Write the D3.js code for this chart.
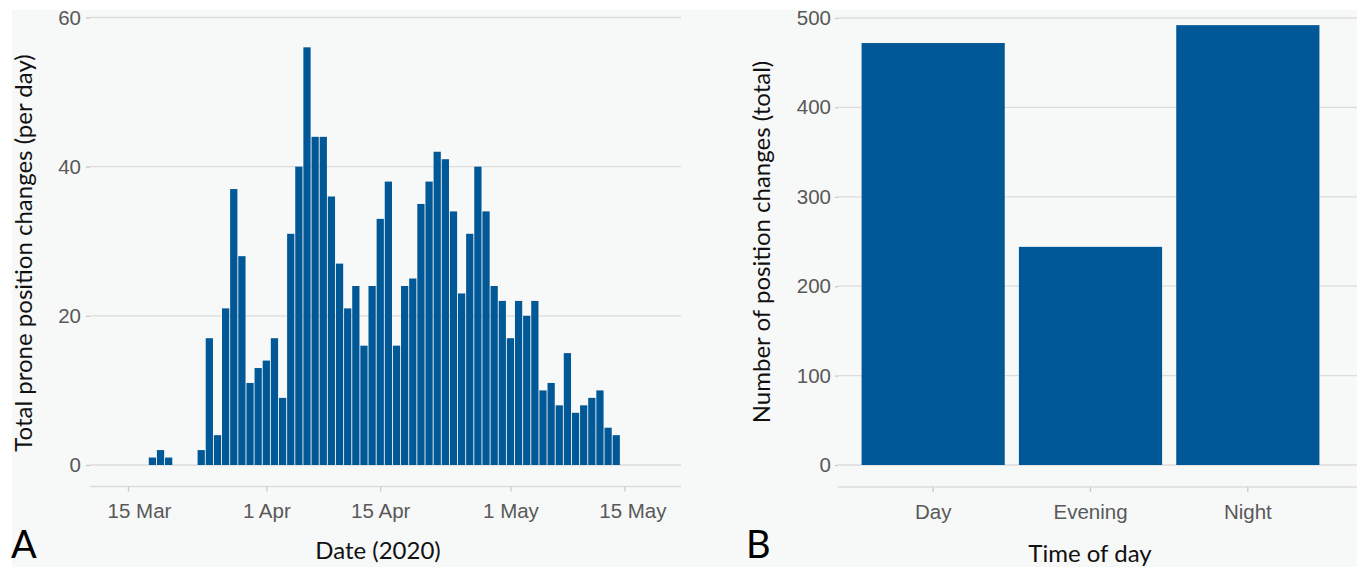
<!DOCTYPE html>
<html>
<head>
<meta charset="utf-8">
<script src="https://cdn.jsdelivr.net/npm/d3@7"></script>
<style>
  html, body { margin: 0; padding: 0; background: #ffffff; }
  svg { display: block; font-family: Lato, "Open Sans", sans-serif; }
</style>
</head>
<body>
<svg id="chart" width="1357" height="567"></svg>
<script>
// ---------- Data ----------
const dailyDates = [
  "2020-03-18","2020-03-19","2020-03-20",
  "2020-03-24","2020-03-25","2020-03-26","2020-03-27","2020-03-28","2020-03-29","2020-03-30","2020-03-31",
  "2020-04-01","2020-04-02","2020-04-03","2020-04-04","2020-04-05","2020-04-06","2020-04-07","2020-04-08","2020-04-09","2020-04-10",
  "2020-04-11","2020-04-12","2020-04-13","2020-04-14","2020-04-15","2020-04-16","2020-04-17","2020-04-18","2020-04-19","2020-04-20",
  "2020-04-21","2020-04-22","2020-04-23","2020-04-24","2020-04-25","2020-04-26","2020-04-27","2020-04-28","2020-04-29","2020-04-30",
  "2020-05-01","2020-05-02","2020-05-03","2020-05-04","2020-05-05","2020-05-06","2020-05-07","2020-05-08","2020-05-09","2020-05-10",
  "2020-05-11","2020-05-12","2020-05-13","2020-05-14"
];
const dailyCounts = [
  1, 2, 1,
  2, 17, 4, 21, 37, 28, 11, 13,
  14, 17, 9, 31, 40, 56, 44, 44, 36, 27,
  21, 24, 16, 24, 33, 38, 16, 24, 25, 35,
  38, 42, 41, 34, 23, 31, 40, 34, 24, 22,
  17, 22, 20, 22, 10, 11, 8, 15, 7, 8,
  9, 10, 5, 4
];
const dateTicks = ["2020-03-15","2020-04-01","2020-04-15","2020-05-01","2020-05-15"];
const leftYTicks = [0, 20, 40, 60];

const timeCategories = ["Day", "Evening", "Night"];
const timeTotals = [472, 244, 492];
const rightYTicks = [0, 100, 200, 300, 400, 500];

// ---------- Setup ----------
const svg = d3.select("#chart");
const BAR = "#005896";
const GRID = "#dcdcdc";
const TICKTXT = "#595959";
const TICKFS = "20.5px";
const TITLEFS = "24px";
const parse = d3.utcParse("%Y-%m-%d");
// small horizontal nudges of the date labels, as they sit in the original figure
const dateLabelNudge = [11, 0, 0, 0, 8];

svg.append("rect").attr("x", 12).attr("y", 10).attr("width", 1345).attr("height", 557).attr("fill", "#f7f8f8");

// ---------- Left panel ----------
const L = { x0: 90, x1: 681, yTop: 17.5, yBase: 465, axisY: 486.5 };
const xL = d3.scaleUtc()
  .domain([new Date(Date.UTC(2020, 2, 10, 8)), new Date(Date.UTC(2020, 4, 21, 23))])
  .range([L.x0, L.x1]);
const yL = d3.scaleLinear().domain([0, 60]).range([L.yBase, L.yTop]);

const gL = svg.append("g");
gL.selectAll("line.grid").data(leftYTicks).join("line")
  .attr("x1", L.x0).attr("x2", L.x1)
  .attr("y1", d => yL(d)).attr("y2", d => yL(d))
  .attr("stroke", GRID).attr("stroke-width", 1.3);

const yAxisL = gL.append("g").attr("transform", `translate(${L.x0},0)`)
  .call(d3.axisLeft(yL).tickValues(leftYTicks).tickSize(4).tickPadding(5));
yAxisL.select(".domain").remove();
yAxisL.selectAll("line").attr("stroke", "#c8c8c8").attr("stroke-width", 1.3);
yAxisL.selectAll("text").attr("fill", TICKTXT).style("font-size", TICKFS);

const pxPerDay = xL(new Date(Date.UTC(2020, 3, 2))) - xL(new Date(Date.UTC(2020, 3, 1)));
const bw = pxPerDay * 0.89;
gL.selectAll("rect.bar").data(dailyDates.map((d, i) => ({ d: parse(d), v: dailyCounts[i] }))).join("rect")
  .attr("x", d => xL(d.d) - bw / 2)
  .attr("width", bw)
  .attr("y", d => yL(d.v))
  .attr("height", d => yL(0) - yL(d.v))
  .attr("fill", BAR);

const xAxisL = gL.append("g").attr("transform", `translate(0,${L.axisY})`)
  .call(d3.axisBottom(xL).tickValues(dateTicks.map(parse)).tickFormat(d3.utcFormat("%-d %b")).tickSize(5).tickPadding(12));
xAxisL.select(".domain").attr("d", `M${L.x0},0H${L.x1}`).attr("stroke", GRID).attr("stroke-width", 1.6);
xAxisL.selectAll(".tick line").attr("stroke", "#c8c8c8").attr("stroke-width", 1.3);
xAxisL.selectAll(".tick text").attr("fill", TICKTXT).style("font-size", TICKFS)
  .attr("dx", (d, i) => dateLabelNudge[i]);

gL.append("text").attr("x", 378).attr("y", 559).attr("text-anchor", "middle")
  .attr("fill", "#111").style("font-size", TITLEFS).text("Date (2020)");
gL.append("text").attr("transform", "translate(32,253) rotate(-90)").attr("text-anchor", "middle")
  .attr("fill", "#111").style("font-size", TITLEFS).text("Total prone position changes (per day)");
gL.append("text").attr("x", 11).attr("y", 558).attr("fill", "#000").style("font-size", "38px").text("A");

// ---------- Right panel ----------
const R = { x0: 838, x1: 1357, yTop: 18, yBase: 465, axisY: 487 };
const xR = d3.scaleBand().domain(timeCategories).range([854.5, 1326.5]).paddingInner(0.09).paddingOuter(0.045);
const yR = d3.scaleLinear().domain([0, 500]).range([R.yBase, R.yTop]);

const gR = svg.append("g");
gR.selectAll("line.grid").data(rightYTicks).join("line")
  .attr("x1", R.x0).attr("x2", R.x1)
  .attr("y1", d => yR(d)).attr("y2", d => yR(d))
  .attr("stroke", GRID).attr("stroke-width", 1.3);

const yAxisR = gR.append("g").attr("transform", `translate(${R.x0},0)`)
  .call(d3.axisLeft(yR).tickValues(rightYTicks).tickSize(3).tickPadding(4));
yAxisR.select(".domain").remove();
yAxisR.selectAll("line").attr("stroke", "#c8c8c8").attr("stroke-width", 1.3);
yAxisR.selectAll("text").attr("fill", TICKTXT).style("font-size", TICKFS);

gR.selectAll("rect.bar").data(timeCategories.map((c, i) => ({ c, v: timeTotals[i] }))).join("rect")
  .attr("x", d => xR(d.c))
  .attr("width", xR.bandwidth())
  .attr("y", d => yR(d.v))
  .attr("height", d => yR(0) - yR(d.v))
  .attr("fill", BAR);

const xAxisR = gR.append("g").attr("transform", `translate(0,${R.axisY})`)
  .call(d3.axisBottom(xR).tickSize(5).tickPadding(12));
xAxisR.select(".domain").attr("d", `M${R.x0},0H${R.x1}`).attr("stroke", GRID).attr("stroke-width", 1.6);
xAxisR.selectAll(".tick line").attr("stroke", "#c8c8c8").attr("stroke-width", 1.3);
xAxisR.selectAll("text").attr("fill", TICKTXT).style("font-size", TICKFS);

gR.append("text").attr("x", 1090).attr("y", 562).attr("text-anchor", "middle")
  .attr("fill", "#111").style("font-size", TITLEFS).text("Time of day");
gR.append("text").attr("transform", "translate(770,242) rotate(-90)").attr("text-anchor", "middle")
  .attr("fill", "#111").style("font-size", TITLEFS).text("Number of position changes (total)");
gR.append("text").attr("x", 746).attr("y", 558).attr("fill", "#000").style("font-size", "38px").text("B");
</script>
</body>
</html>
